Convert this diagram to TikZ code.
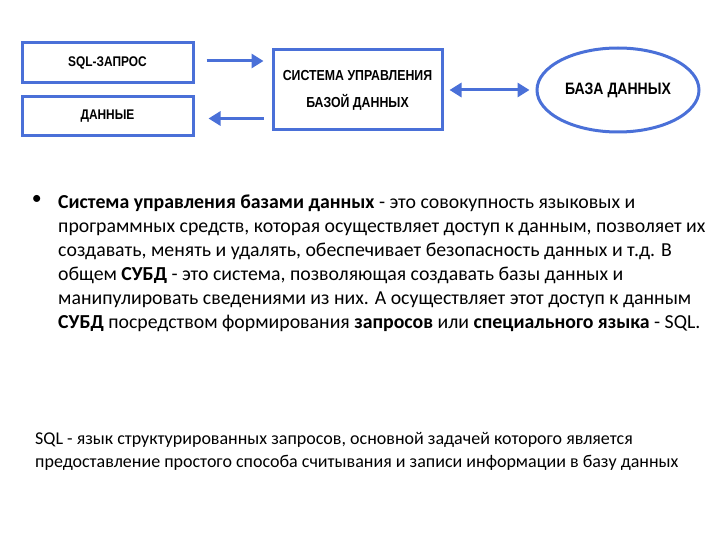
\documentclass[tikz,border=0pt]{standalone}
\usepackage{fontspec}
\setmainfont{Carlito}
\newfontfamily\hd{Liberation Sans}
\usetikzlibrary{arrows.meta,shapes.geometric}
\definecolor{bl}{HTML}{4A70D8}
\begin{document}
\begin{tikzpicture}[x=1pt,y=-1pt,
  bx/.style={draw=bl,line width=3pt,inner sep=0pt,font=\hd\bfseries\fontsize{14}{22}\selectfont,align=center},
  ar/.style={bl,line width=3pt,-{Triangle[length=12pt,width=14pt]}}]
\useasboundingbox (0,0) rectangle (720,540);
\node[bx,minimum width=171pt,minimum height=40pt] (sql) at (107.5,63) {\scalebox{0.85}[1]{SQL-ЗАПРОС}};
\node[bx,minimum width=171pt,minimum height=39pt] (dat) at (107.5,116.5) {\scalebox{0.85}[1]{ДАННЫЕ}};
\node[bx,minimum width=169pt,minimum height=80pt,font=\hd\bfseries\fontsize{14.5}{27}\selectfont] (sys) at (357.5,90) {\scalebox{0.85}[1]{СИСТЕМА УПРАВЛЕНИЯ}\\\scalebox{0.85}[1]{БАЗОЙ ДАННЫХ}};
\node[bx,ellipse,inner sep=0pt,minimum width=162pt,minimum height=84pt,font=\hd\bfseries\fontsize{16.5}{18}\selectfont] (db) at (618,90) {\scalebox{0.85}[1]{БАЗА ДАННЫХ}};
\draw[ar] ([xshift=12pt,yshift=2pt]sql.east) -- ([xshift=-8pt,yshift=2pt]sys.west|-sql.east);
\draw[ar] ([xshift=-8pt,yshift=-2pt]sys.west|-dat.east) -- ([xshift=14pt,yshift=-2pt]dat.east);
\draw[bl,line width=3pt,{Triangle[length=12pt,width=14pt]}-{Triangle[length=12pt,width=14pt]}] ([xshift=6pt]sys.east) -- ([xshift=-6pt]db.west);
\node[anchor=north west,inner sep=0pt,font=\fontsize{19.8}{24}\selectfont,align=left] (txt) at (58,195)
{\textbf{Система управления базами данных} - это совокупность языковых и\\
программных средств, которая осуществляет доступ к данным, позволяет их\\
создавать, менять и удалять, обеспечивает безопасность данных и т.д. В\\
общем \textbf{СУБД} - это система, позволяющая создавать базы данных и\\
манипулировать сведениями из них. А осуществляет этот доступ к данным\\
\textbf{СУБД} посредством формирования \textbf{запросов} или \textbf{специального языка} - SQL.};
\node[anchor=north east,inner sep=0pt,font=\fontsize{19.8}{24}\selectfont] (bul) at (42,195) {•};
\node[anchor=north west,inner sep=0pt,font=\fontsize{18}{23}\selectfont,align=left] (sq) at (35,432)
{SQL - язык структурированных запросов, основной задачей которого является\\
предоставление простого способа считывания и записи информации в базу данных};
\end{tikzpicture}
\end{document}
